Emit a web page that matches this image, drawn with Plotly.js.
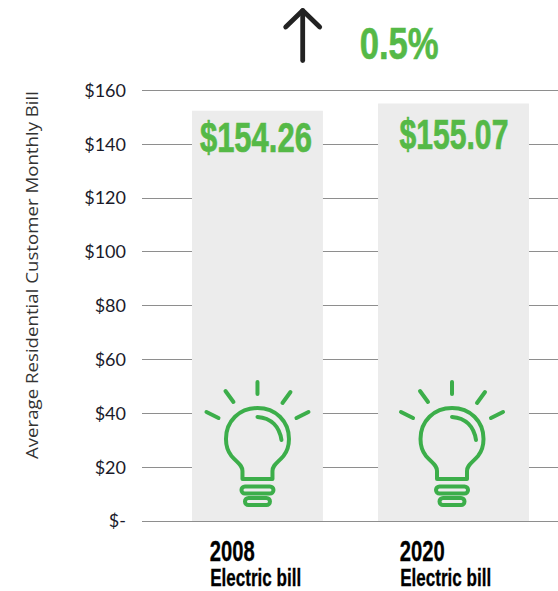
<!DOCTYPE html>
<html><head><meta charset="utf-8">
<script src="https://cdn.plot.ly/plotly-3.0.1.min.js"></script>
<style>html,body{margin:0;padding:0;background:#fff}</style></head>
<body><div id="chart" style="width:558px;height:591px"></div>
<script>
const categories = ['2008', '2020'];
const barHeights = [152.5, 155.2];
const barLabels = ['$154.26', '$155.07'];
const subLabel = 'Electric bill';
const tickValues = [0, 20, 40, 60, 80, 100, 120, 140, 160];
const tickLabels = ['$-', '$20', '$40', '$60', '$80', '$100', '$120', '$140', '$160'];
const changeLabel = '0.5%';
const yTitle = 'Average Residential Customer Monthly Bill';

const barWidths = [0.668, 0.770];
const GREEN = '#55b947', ICON = '#3cae4a', HEAVY = '"Liberation Sans",sans-serif', BODY = '"Open Sans",sans-serif';
const M = {l:142, r:0, t:88, b:67};
const W = 558, H = 591;
const paperX = px => (px - M.l) / (W - M.l - M.r);
const paperY = py => (H - M.b - py) / (H - M.t - M.b);

function pill(hw, top, bot) {
  const r = (top - bot) / 2, k = r * 0.55, mid = (top + bot) / 2;
  return `M${-hw},${top} L${hw},${top} C${hw + k},${top} ${hw + r},${mid + k} ${hw + r},${mid} C${hw + r},${mid - k} ${hw + k},${bot} ${hw},${bot} L${-hw},${bot} C${-hw - k},${bot} ${-hw - r},${mid - k} ${-hw - r},${mid} C${-hw - r},${mid + k} ${-hw - k},${top} ${-hw},${top} Z`;
}
function bulb(anchor) {
  const paths = [
    'M0,139 L0,127', 'M-32,130 L-24,119', 'M33,129 L25,118', 'M-51,109 L-39,103', 'M51,109 L39,103',
    'M-15,42 L-15,50 C-15,56 -20,58 -26,65 C-30,70 -31.5,76 -31.5,82 C-31.5,100 -18,113 0,113 C18,113 31.5,100 31.5,82 C31.5,76 30,70 26,65 C20,58 15,56 15,50 L15,42 Z',
    'M0,104 C14,103 22,94 24,81',
    pill(12.5, 34.5, 27.5), pill(9, 23, 16)
  ];
  return paths.map(path => ({type:'path', xref:'x', yref:'y', xsizemode:'pixel', ysizemode:'pixel', xanchor:anchor, yanchor:0, path,
    line:{color:ICON, width:4}, fillcolor:'rgba(0,0,0,0)'}));
}
const arrow = ['M0,0 L0,50', 'M-17,33.6 L0,50 L17,33.6'].map(path => ({type:'path', xref:'paper', yref:'paper', xsizemode:'pixel', ysizemode:'pixel',
  xanchor:paperX(302.7), yanchor:paperY(60.6), path, line:{color:'#222', width:4.8}, fillcolor:'rgba(0,0,0,0)'}));

// centre pixel, target width, extra stroke weight
const annotations = [], fits = [];
function label(text, cx, cy, size, color, width, weight) {
  annotations.push({xref:'paper', yref:'paper', x:paperX(cx), y:paperY(cy), text, showarrow:false, xanchor:'center', yanchor:'middle',
    font:{family:HEAVY, size, color, weight:700}});
  fits.push({width, weight, color});
}
label(barLabels[0], 256, 137.5, 42, GREEN, 112, 0.7);
label(barLabels[1], 454, 134, 42, GREEN, 109, 0.7);
label(changeLabel, 398.5, 43, 44, GREEN, 79, 0.6);
label(categories[0], 232, 551, 29, '#000', 45, 0.3);
label(categories[1], 422, 551, 29, '#000', 45, 0.3);
label(subLabel, 255.5, 578, 23.5, '#000', 91, 0.3);
label(subLabel, 445.5, 578, 23.5, '#000', 91, 0.3);

const trace = {type:'bar', x:categories, y:barHeights, width:barWidths, marker:{color:'#ececec', line:{width:0}}, hoverinfo:'skip', showlegend:false};

Plotly.newPlot('chart', [trace], {
  width:W, height:H, paper_bgcolor:'#fff', plot_bgcolor:'#fff', showlegend:false, margin:M,
  xaxis:{type:'category', range:[-0.589, 1.533], showticklabels:false, showgrid:false, zeroline:false, showline:false, ticks:''},
  yaxis:{range:[-1.115, 160.93], tickvals:tickValues, ticktext:tickLabels, showgrid:true, gridcolor:'#8e8e8e', gridwidth:1, zeroline:false, showline:false,
    ticks:'', ticklabelstandoff:15, tickfont:{family:'Lato, sans-serif', size:18, color:'#1a1a2a'},
    title:{text:yTitle, standoff:24, font:{family:BODY, size:16, color:'#333'}}},
  shapes:[].concat(bulb(0), bulb(1 - 1.5/196), arrow),
  annotations
}, {displayModeBar:false, staticPlot:true}).then(gd => {
  gd.querySelectorAll('.annotation-text').forEach((t, i) => {
    t.setAttribute('textLength', fits[i].width);
    t.setAttribute('lengthAdjust', 'spacingAndGlyphs');
    t.style.stroke = fits[i].color;
    t.style.strokeWidth = fits[i].weight + 'px';
  });
  gd.querySelectorAll('.shapelayer path').forEach(p => {
    p.style.strokeLinecap = 'round';
    p.style.strokeLinejoin = 'round';
  });
  const yt = gd.querySelector('.ytitle');
  if (yt) {
    yt.setAttribute('textLength', 368);
    yt.setAttribute('lengthAdjust', 'spacingAndGlyphs');
    yt.setAttribute('transform', 'translate(-17,-31) ' + (yt.getAttribute('transform') || ''));
  }
});
</script></body></html>
